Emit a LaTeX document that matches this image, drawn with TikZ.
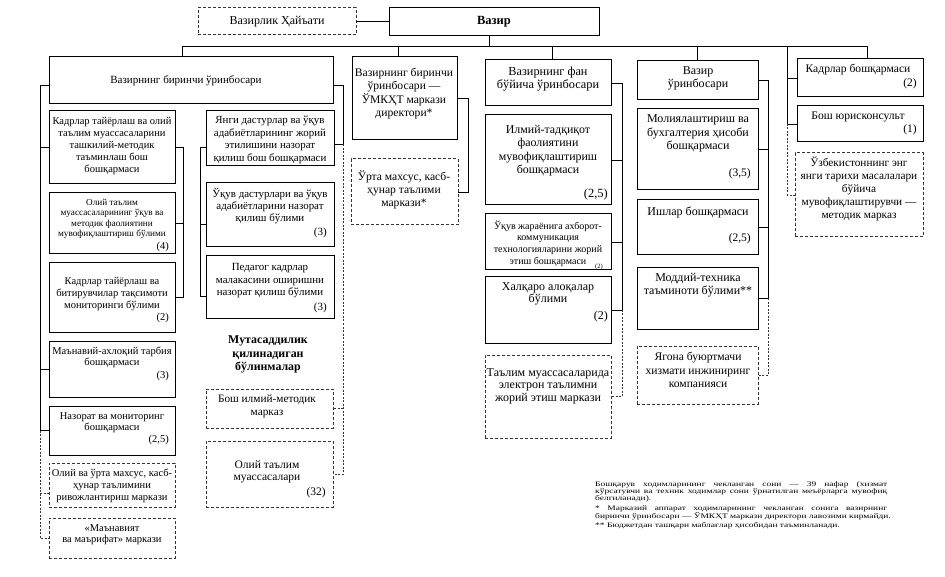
\documentclass[tikz,border=0pt]{standalone}
\usepackage{fontspec}
\setmainfont{Liberation Serif}
\newfontfamily\fnfont{Liberation Serif}[FakeStretch=1.35]
\newcommand\obox[6]{\node[#6, minimum width={(#4-#2)*1pt}, minimum height={(#5-#3)*1pt}] (#1) at ({(#2+#4)/2},{(#3+#5)/2}) {};}
\newcommand\fsz[2]{\fontsize{#1}{#2}\selectfont}
\begin{document}
\begin{tikzpicture}[x=1pt,y=-1pt,
  sbox/.style={draw=black, line width=1pt, inner sep=0pt, outer sep=0pt},
  dbox/.style={draw=black!80, line width=1pt, dash pattern=on 3pt off 2pt, inner sep=0pt, outer sep=0pt},
  ln/.style={draw=black, line width=0.8pt},
  dl/.style={draw=black!80, line width=0.8pt, dash pattern=on 2pt off 1.5pt},
  tx/.style={align=center, inner sep=0pt},
  num/.style={anchor=east, inner sep=0pt, font=\fsz{10.5}{12}},
]
\useasboundingbox (0,0) rectangle (945,577);
% boxes
\obox{hay}{198}{8}{356}{35}{dbox}
\obox{vz}{389}{8}{599}{36}{sbox}
\obox{fu}{49}{57}{333}{104}{sbox}
\obox{l1}{49}{111}{175}{184}{sbox}
\obox{l2}{49}{193}{175}{254}{sbox}
\obox{l3}{49}{263}{175}{332}{sbox}
\obox{l4}{49}{341}{175}{397}{sbox}
\obox{l5}{49}{406}{175}{455}{sbox}
\obox{l6}{49}{463}{175}{507}{dbox}
\obox{l7}{49}{518}{175}{558}{dbox}
\obox{ma}{206}{111}{334}{166}{sbox}
\obox{mb}{206}{183}{334}{247}{sbox}
\obox{mc}{206}{256}{334}{319}{sbox}
\obox{bim}{206}{389}{333}{428}{dbox}
\obox{ot}{206}{441}{333}{507}{dbox}
\obox{um}{352}{57}{457}{140}{sbox}
\obox{ur}{351}{159}{458}{225}{dbox}
\obox{fan}{485}{60}{611}{106}{sbox}
\obox{i1}{485}{115}{611}{205}{sbox}
\obox{i2}{485}{214}{611}{270}{sbox}
\obox{i3}{485}{277}{611}{343}{sbox}
\obox{i4}{485}{355}{611}{438}{dbox}
\obox{vzu}{637}{61}{758}{100}{sbox}
\obox{m1}{637}{109}{758}{190}{sbox}
\obox{m2}{637}{200}{758}{255}{sbox}
\obox{m3}{637}{268}{758}{329}{sbox}
\obox{m4}{637}{346}{758}{404}{dbox}
\obox{k1}{797}{59}{923}{97}{sbox}
\obox{k2}{797}{106}{923}{142}{sbox}
\obox{k3}{795}{153}{923}{237}{dbox}
% texts
\node[tx, font=\fsz{12}{14}] (thay) at (277,21.5) {Вазирлик Ҳайъати};
\node[tx, font=\fsz{12.5}{14}\bfseries] (tvz) at (494,22) {Вазир};
\node[tx, font=\fsz{11}{13}] (tfu) at (186,81) {Вазирнинг биринчи ўринбосари};
\node[tx, font=\fsz{10.5}{12}] (tl1) at (112,146) {Кадрлар тайёрлаш ва олий\\таълим муассасаларини\\ташкилий-методик\\таъминлаш бош\\бошқармаси};
\node[tx, font=\fsz{9.2}{10.5}] (tl2) at (112,219) {Олий таълим\\муассасаларининг ўқув ва\\методик фаолиятини\\мувофиқлаштириш бўлими};
\node[num] (nl2) at (169,247) {(4)};
\node[tx, font=\fsz{10.5}{12}] (tl3) at (112,294) {Кадрлар тайёрлаш ва\\битирувчилар тақсимоти\\мониторинги бўлими};
\node[num] (nl3) at (169,318) {(2)};
\node[tx, font=\fsz{10.5}{11.5}] (tl4) at (112,357.5) {Маънавий-ахлоқий тарбия\\бошқармаси};
\node[num] (nl4) at (169,376) {(3)};
\node[tx, font=\fsz{10.5}{11.5}] (tl5) at (112,422.5) {Назорат ва мониторинг\\бошқармаси};
\node[num] (nl5) at (169,440) {(2,5)};
\node[tx, font=\fsz{10.5}{12}] (tl6) at (112,486) {Олий ва ўрта махсус, касб-\\ҳунар таълимини\\ривожлантириш маркази};
\node[tx, font=\fsz{10.5}{11.5}] (tl7) at (112,534.5) {«Маънавият\\ва маърифат» маркази};
\node[tx, font=\fsz{10.9}{12.5}] (tma) at (270,140) {Янги дастурлар ва ўқув\\адабиётларининг жорий\\этилишини назорат\\қилиш бош бошқармаси};
\node[tx, font=\fsz{10.9}{12}] (tmb) at (270,206) {Ўқув дастурлари ва ўқув\\адабиётларини назорат\\қилиш бўлими};
\node[num, font=\fsz{11}{12}] (nmb) at (327,233) {(3)};
\node[tx, font=\fsz{10.9}{12.5}] (tmc) at (270,281) {Педагог кадрлар\\малакасини оширишни\\назорат қилиш бўлими};
\node[num, font=\fsz{11}{12}] (nmc) at (327,308) {(3)};
\node[tx, font=\fsz{11.9}{13.5}\bfseries] (tmut) at (268,354.5) {Мутасаддилик\\қилинадиган\\бўлинмалар};
\node[tx, font=\fsz{11.3}{13}] (tbim) at (267,406.5) {Бош илмий-методик\\марказ};
\node[tx, font=\fsz{11.5}{12.5}] (tot) at (267,472) {Олий таълим\\муассасалари};
\node[num, font=\fsz{11.5}{12}] (not) at (326,493) {(32)};
\node[tx, font=\fsz{11.6}{13.5}] (tum) at (404,93.5) {Вазирнинг биринчи\\ўринбосари —\\ЎМКҲТ маркази\\директори*};
\node[tx, font=\fsz{11.6}{13}] (tur) at (404,190) {Ўрта махсус, касб-\\ҳунар таълими\\маркази*};
\node[tx, font=\fsz{12.3}{13}] (tfan) at (548,79.5) {Вазирнинг фан\\бўйича ўринбосари};
\node[tx, font=\fsz{11.9}{13.5}] (ti1) at (548,150.5) {Илмий-тадқиқот\\фаолиятини\\мувофиқлаштириш\\бошқармаси};
\node[num, font=\fsz{12.5}{13}] (ni1) at (608,194) {(2,5)};
\node[tx, font=\fsz{10}{11.7}] (ti2) at (548,243.5) {Ўқув жараёнига ахборот-\\коммуникация\\технологияларини жорий\\этиш бошқармаси};
\node[num, font=\fsz{6.5}{7}] (ni2) at (603,267) {(2)};
\node[tx, font=\fsz{12}{12.5}] (ti3) at (548,294) {Халқаро алоқалар\\бўлими};
\node[num, font=\fsz{12}{13}] (ni3) at (608,317) {(2)};
\node[tx, font=\fsz{12}{12.5}] (ti4) at (548,386) {Таълим муассасаларида\\электрон таълимни\\жорий этиш маркази};
\node[tx, font=\fsz{12}{13}] (tvzu) at (698,78.5) {Вазир\\ўринбосари};
\node[tx, font=\fsz{12}{13.5}] (tm1) at (698,133.5) {Молиялаштириш ва\\бухгалтерия ҳисоби\\бошқармаси};
\node[num, font=\fsz{11.5}{12}] (nm1) at (751,174) {(3,5)};
\node[tx, font=\fsz{12}{13}] (tm2) at (698,212) {Ишлар бошқармаси};
\node[num, font=\fsz{11.5}{12}] (nm2) at (751,239) {(2,5)};
\node[tx, font=\fsz{12}{13}] (tm3) at (698,285.5) {Моддий-техника\\таъминоти бўлими**};
\node[tx, font=\fsz{11.6}{13.5}] (tm4) at (698,370) {Ягона буюртмачи\\хизмати инжиниринг\\компанияси};
\node[tx, font=\fsz{11.6}{13}] (tk1) at (858,70) {Кадрлар бошқармаси};
\node[num, font=\fsz{11.5}{12}] (nk1) at (917,84) {(2)};
\node[tx, font=\fsz{11.6}{13}] (tk2) at (858,117) {Бош юрисконсульт};
\node[num, font=\fsz{11.5}{12}] (nk2) at (917,130) {(1)};
\node[tx, font=\fsz{11.3}{13}] (tk3) at (859,189) {Ўзбекистоннинг энг\\янги тарихи масалалари\\бўйича\\мувофиқлаштирувчи —\\методик марказ};
% footnote
\node[anchor=north west, inner sep=0pt, align=left, font=\fnfont\fsz{7}{7.3}] (fn) at (595,481) {%
\makebox[292pt][s]{Бошқарув ходимларининг чекланган сони — 39 нафар (хизмат}\\
\makebox[292pt][s]{кўрсатувчи ва техник ходимлар сони ўрнатилган меъёрларга мувофиқ}\\
белгиланади).\\[2.4pt]
\makebox[292pt][s]{* Марказий аппарат ходимларининг чекланган сонига вазирнинг}\\
биринчи ўринбосари — ЎМКҲТ маркази директори лавозими кирмайди.\\[1pt]
** Бюджетдан ташқари маблағлар ҳисобидан таъминланади.};
% connectors
\coordinate (busL) at (182,46);
\coordinate (busR) at (867,46);
\coordinate (b2) at (398,46);
\coordinate (b3) at (552,46);
\coordinate (b5) at (787,46);
\draw[ln] (hay.east) -- (hay.east -| vz.west);
\draw[ln] ([xshift=-5pt]vz.south) -- ([xshift=-5pt]vz.south |- busL);
\draw[ln] (busL) -- (busR);
\draw[ln] (busL) -- (busL |- fu.north);
\draw[ln] (b2) -- (b2 |- um.north);
\draw[ln] (b3) -- (b3 |- fan.north);
\draw[ln] (vzu.north |- busL) -- (vzu.north);
\draw[ln] (busR) -- (busR |- k1.north);
\draw[ln] (b5) -- (b5 |- k2.west) -- (k2.west);
\draw[ln] (b5 |- k1.west) -- (k1.west);
\draw[dl] (b5 |- k2.west) -- (b5 |- k3.west) -- (k3.west);
% left spine
\coordinate (sL) at (40,85);
\draw[ln] (fu.west |- sL) -- (sL) -- (sL |- l5.west) -- (l5.west);
\draw[ln] (sL |- l1.west) -- (l1.west);
\draw[ln] (sL |- l4.west) -- (l4.west);
\path ([yshift=-8pt]l6.west) coordinate (l6t);
\draw[dl] (sL |- l5.west) -- (sL |- l7.west) -- (l7.west);
\draw[dl] (sL |- l6t) -- (l6t);
\coordinate (rB) at (183,0);
\draw[ln] (l1.east) -- (rB |- l1.east) -- (rB |- l3.east) -- (l3.east);
\draw[ln] (rB |- l2.east) -- (l2.east);
% middle spine
\coordinate (sM) at (343,85);
\path ([yshift=-6pt]ma.east) coordinate (mat);
\draw[ln] (fu.east |- sM) -- (sM) -- (sM |- mat) -- (mat);
\draw[dl] (sM |- mat) -- (sM |- ot.east) -- (ot.east);
\draw[dl] (sM |- bim.east) -- (bim.east);
\coordinate (lA) at (200,0);
\path ([yshift=-9pt]ma.west) coordinate (maw) ([yshift=-9pt]mb.west) coordinate (mbw) ([yshift=-9pt]mc.west) coordinate (mcw);
\draw[ln] (maw) -- (lA |- maw) -- (lA |- mcw) -- (mcw);
\draw[ln] (lA |- mbw) -- (mbw);
% UMKHT
\coordinate (sU) at (468,0);
\draw[ln] (um.east) -- (sU |- um.east) -- (sU |- ur.east) -- (ur.east);
% fan
\coordinate (sF) at (622,0);
\draw[ln] (fan.east) -- (sF |- fan.east) -- (sF |- i3.east) -- (i3.east);
\draw[ln] (sF |- i1.east) -- (i1.east);
\draw[ln] (sF |- i2.east) -- (i2.east);
\draw[dl] (sF |- i3.east) -- (sF |- i4.east) -- (i4.east);
% vazir urinbosari
\coordinate (sV) at (768,0);
\draw[ln] (vzu.east) -- (sV |- vzu.east) -- (sV |- m3.east) -- (m3.east);
\draw[ln] (sV |- m1.east) -- (m1.east);
\draw[ln] (sV |- m2.east) -- (m2.east);
\draw[dl] (sV |- m3.east) -- (sV |- m4.east) -- (m4.east);
\end{tikzpicture}
\end{document}
